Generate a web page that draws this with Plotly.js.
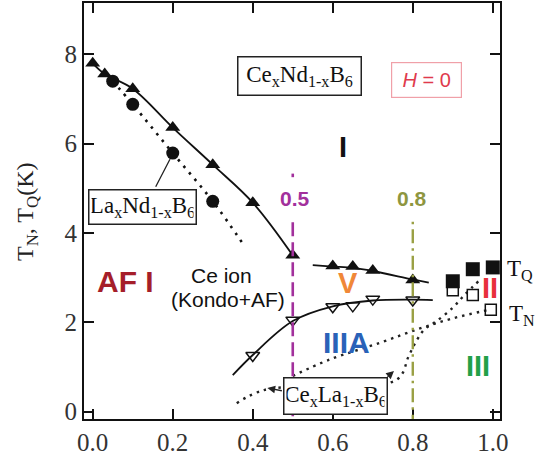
<!DOCTYPE html>
<html><head><meta charset="utf-8">
<script src="https://cdn.plot.ly/plotly-3.0.1.min.js"></script>
<style>html,body{margin:0;padding:0;background:#fff}#chart{width:539px;height:456px}</style>
</head><body><div id="chart"></div>
<script>
// ---------- data ----------
// Ce(x)Nd(1-x)B6, T_Q (filled up-triangles) and guide line
const ndTQ_x = [0.0, 0.03, 0.1, 0.2, 0.3, 0.4, 0.5];
const ndTQ_y = [7.8, 7.56, 7.23, 6.36, 5.53, 4.68, 3.5];
const ndTQ2_x = [0.6, 0.65, 0.7, 0.8];
const ndTQ2_y = [3.26, 3.25, 3.16, 2.95];
const ndTQ2Line_x = [0.55, 0.6, 0.65, 0.7, 0.8, 0.84];
const ndTQ2Line_y = [3.28, 3.25, 3.22, 3.15, 2.96, 2.89];
// Ce(x)Nd(1-x)B6, T_N (open down-triangles) and guide line
const ndTN_x = [0.4, 0.5, 0.6, 0.65, 0.7, 0.8];
const ndTN_y = [1.26, 2.05, 2.35, 2.37, 2.52, 2.50];
const ndTNLine_x = [0.35, 0.4, 0.5, 0.6, 0.7, 0.8, 0.85];
const ndTNLine_y = [0.82, 1.27, 2.03, 2.36, 2.49, 2.51, 2.5];
// La(x)Nd(1-x)B6 (filled circles) and dotted guide
const laNd_x = [0.05, 0.1, 0.2, 0.3];
const laNd_y = [7.40, 6.88, 5.79, 4.71];
const laNdLine_x = [0.05, 0.1, 0.2, 0.3, 0.38];
const laNdLine_y = [7.40, 6.88, 5.79, 4.71, 3.7];
// CeB6-rich end: T_Q filled squares, T_N open squares
const ceTQ_x = [0.9, 0.95, 1.0];
const ceTQ_y = [2.92, 3.19, 3.23];
const ceTN_x = [0.9, 0.95, 0.995];
const ceTN_y = [2.72, 2.61, 2.28];
// Ce(x)La(1-x)B6 dotted boundaries
const laTQ_x = [0.36, 0.43, 0.76, 0.79, 0.81, 0.83, 0.86, 0.9, 0.93, 0.97];
const laTQ_y = [0.19, 0.49, 0.72, 1.25, 1.6, 1.85, 2.03, 2.33, 2.62, 2.97];
const laTN_x = [0.5, 0.59, 0.72, 0.82, 0.9, 0.99];
const laTN_y = [0.8, 1.16, 1.55, 1.87, 2.09, 2.28];
// axes
const xTicks = [0, 0.2, 0.4, 0.6, 0.8, 1.0];
const xTickText = ['0.0', '0.2', '0.4', '0.6', '0.8', '1.0'];
const yTicks = [0, 2, 4, 6, 8];
const boundaries = [0.5, 0.8];

// ---------- styling ----------
const SERIF = '"Liberation Serif", "Times New Roman", serif';
const SANS = '"Liberation Sans", Arial, sans-serif';
const K = '#111';

const traces = [
  {x: ndTQ_x, y: ndTQ_y, mode: 'lines', line: {color: K, width: 1.8, shape: 'spline'}},
  {x: ndTQ2Line_x, y: ndTQ2Line_y, mode: 'lines', line: {color: K, width: 1.8, shape: 'spline'}},
  {x: ndTNLine_x, y: ndTNLine_y, mode: 'lines', line: {color: K, width: 1.8, shape: 'spline'}},
  {x: laNdLine_x, y: laNdLine_y, mode: 'lines', line: {color: K, width: 2.6, dash: '2.5px,6px', shape: 'spline'}},
  {x: laTQ_x, y: laTQ_y, mode: 'lines', line: {color: '#222', width: 2.4, dash: '2.5px,5px', shape: 'spline'}},
  {x: laTN_x, y: laTN_y, mode: 'lines', line: {color: '#222', width: 2.4, dash: '2.5px,5px', shape: 'spline'}},
  {x: ndTQ_x, y: ndTQ_y, mode: 'markers', marker: {symbol: 'triangle-up', size: 13, color: K}},
  {x: ndTQ2_x, y: ndTQ2_y, mode: 'markers', marker: {symbol: 'triangle-up', size: 13, color: K}},
  {x: ndTN_x, y: ndTN_y, mode: 'markers', marker: {symbol: 'triangle-down-open', size: 12, color: K, line: {width: 1.5}}},
  {x: laNd_x, y: laNd_y, mode: 'markers', marker: {symbol: 'circle', size: 13, color: K}},
  {x: ceTN_x, y: ceTN_y, mode: 'markers', marker: {symbol: 'square-open', size: 11, color: K, line: {width: 1.5}}},
  {x: ceTQ_x, y: ceTQ_y, mode: 'markers', marker: {symbol: 'square', size: 14, color: K}}
];

const shapes = [
  {type: 'line', xref: 'x', yref: 'y', x0: boundaries[0], x1: boundaries[0], y0: 4.24, y1: -0.3,
   line: {color: '#a2309c', width: 2.6, dash: '14px,6px'}, layer: 'above'},
  {type: 'line', xref: 'x', yref: 'y', x0: boundaries[0], x1: boundaries[0], y0: 5.25, y1: 5.33,
   line: {color: '#a2309c', width: 2.6}, layer: 'above'},
  {type: 'line', xref: 'x', yref: 'y', x0: boundaries[1], x1: boundaries[1], y0: 4.25, y1: -0.3,
   line: {color: '#9aa044', width: 2.4, dash: '2.5px,5px,14px,5px'}, layer: 'above'}
];

function lab(x, y, text, size, color, extra) {
  return Object.assign({x: x, y: y, xref: 'x', yref: 'y', text: text, showarrow: false,
    font: {family: SANS, size: size, color: color}}, extra || {});
}

const annotations = [
  // boxes
  lab(0.518, 7.52, 'Ce<sub>x</sub>Nd<sub>1-x</sub>B<sub>6</sub>', 23, '#111',
      {font: {family: SERIF, size: 23, color: '#111'}, bordercolor: '#222', borderwidth: 1.5, borderpad: 2,
       bgcolor: '#fff', width: 118, height: 33}),
  lab(0.834, 7.42, '<i>H</i> = 0', 20, '#e03a4c',
      {bordercolor: '#f0a0a8', borderwidth: 1.2, borderpad: 2, bgcolor: '#fff', width: 65, height: 30}),
  lab(0.1245, 4.575, 'La<sub>x</sub>Nd<sub>1-x</sub>B<sub>6</sub>', 23, '#111',
      {font: {family: SERIF, size: 23, color: '#111'}, bordercolor: '#222', borderwidth: 1.5, borderpad: 2,
       bgcolor: '#fff', width: 102, height: 29}),
  lab(0.607, 0.351, 'Ce<sub>x</sub>La<sub>1-x</sub>B<sub>6</sub>', 23, '#111',
      {font: {family: SERIF, size: 23, color: '#111'}, bordercolor: '#222', borderwidth: 1.5, borderpad: 2,
       bgcolor: '#fff', width: 98, height: 31}),
  // leader and arrows
  {x: 0.193, y: 5.65, xref: 'x', yref: 'y', text: '', showarrow: true, arrowhead: 0, arrowwidth: 1.3,
   arrowcolor: '#222', ax: -15, ay: 29},
  {x: 0.4365, y: 0.53, xref: 'x', yref: 'y', text: '', showarrow: true, arrowhead: 2, arrowsize: 1.2, arrowwidth: 1.3,
   arrowcolor: '#222', ax: 16, ay: 3},
  {x: 0.753, y: 0.91, xref: 'x', yref: 'y', text: '', showarrow: true, arrowhead: 2, arrowsize: 1.2, arrowwidth: 1.3,
   arrowcolor: '#222', ax: -8, ay: 7},
  // phase labels
  lab(0.626, 5.92, '<b>I</b>', 29, '#111'),
  lab(0.506, 4.77, '<b>0.5</b>', 21, '#a2309c'),
  lab(0.7975, 4.77, '<b>0.8</b>', 21, '#8e9640'),
  lab(0.081, 2.92, '<b>AF I</b>', 30, '#a51e2a'),
  lab(0.3225, 3.05, 'Ce ion', 21, '#111'),
  lab(0.338, 2.52, '(Kondo+AF)', 21, '#111'),
  lab(0.637, 2.88, '<b>V</b>', 29, '#f08838'),
  lab(0.6345, 1.55, '<b>IIIA</b>', 30, '#2a62b8'),
  lab(0.993, 2.77, '<b>II</b>', 29, '#e8303c'),
  lab(0.963, 1.02, '<b>III</b>', 29, '#22a048'),
  // right-side labels
  {x: 1.012, y: 0.358, xref: 'paper', yref: 'paper', xanchor: 'left', yanchor: 'middle', showarrow: false,
   text: 'T<sub>Q</sub>', font: {family: SERIF, size: 23, color: '#111'}},
  {x: 1.017, y: 0.25, xref: 'paper', yref: 'paper', xanchor: 'left', yanchor: 'middle', showarrow: false,
   text: 'T<sub>N</sub>', font: {family: SERIF, size: 23, color: '#111'}},
  // y axis title
  {x: -0.137, y: 0.4976, xref: 'paper', yref: 'paper', xanchor: 'center', yanchor: 'middle', showarrow: false,
   textangle: -90, text: 'T<sub>N</sub>, T<sub>Q</sub>(K)', font: {family: SERIF, size: 24, color: '#222'}}
];

const axisCommon = {
  showline: true, linecolor: '#111', linewidth: 2, mirror: 'ticks',
  ticks: 'inside', ticklen: 10, tickwidth: 2, tickcolor: '#111',
  showgrid: false, zeroline: false,
  tickfont: {family: SERIF, size: 25, color: '#333'}
};

const layout = {
  width: 539, height: 456,
  margin: {l: 84, r: 39, t: 3, b: 37, pad: 0},
  paper_bgcolor: '#fff', plot_bgcolor: '#fff',
  showlegend: false,
  xaxis: Object.assign({}, axisCommon, {range: [-0.0218, 1.018], tickmode: 'array', tickvals: xTicks, ticktext: xTickText}),
  yaxis: Object.assign({}, axisCommon, {range: [-0.163, 9.149], tickmode: 'array', tickvals: yTicks}),
  shapes: shapes,
  annotations: annotations
};

Plotly.newPlot('chart', traces, layout, {staticPlot: true, displayModeBar: false});
</script></body></html>
